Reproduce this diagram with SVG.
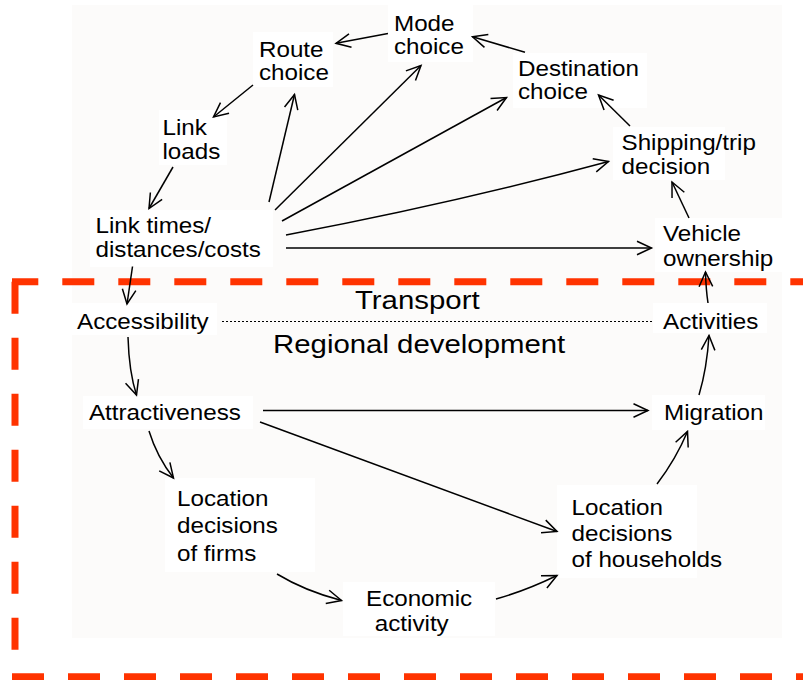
<svg xmlns="http://www.w3.org/2000/svg" width="803" height="680" viewBox="0 0 803 680">
<defs>
<style>
.bg{fill:#fcfbfa}
.box{fill:#ffffff}
.t{font-family:"Liberation Sans",Arial,sans-serif;font-size:22px;fill:#000;transform-box:fill-box;transform-origin:left center;transform:scaleX(1.1)}
.big{font-family:"Liberation Sans",Arial,sans-serif;font-size:26px;fill:#000;transform-box:fill-box;transform-origin:left center;transform:scaleX(1.13)}
.c{fill:none;stroke:#000;stroke-width:1.5;marker-end:url(#arr)}
.red{fill:none;stroke:#ff3300;stroke-width:7;stroke-dasharray:32 24}
.dot{stroke:#000;stroke-width:1.2;stroke-dasharray:2 2}
</style>
<marker id="arr" markerUnits="userSpaceOnUse" viewBox="-17 -9 19 18" refX="0" refY="0" markerWidth="19" markerHeight="18" orient="auto">
<path d="M-14.5,-6.8 L0,0 L-14.5,6.8" fill="none" stroke="#000" stroke-width="1.5"/>
</marker>
</defs>
<rect class="bg" x="72" y="5" width="710" height="633"/>

<g id="red-boundary">
<line class="red" x1="12" y1="281.7" x2="803" y2="281.7" stroke-dashoffset="5.7"/>
<line class="red" x1="15" y1="281.7" x2="15" y2="650"/>
<line class="red" x1="12" y1="676.7" x2="803" y2="676.7"/>
</g>

<g id="mode-choice"><rect class="box" x="388" y="5" width="85" height="57"/><text class="t" x="394" y="31.5">Mode<tspan x="394" y="54">choice</tspan></text></g>
<g id="route-choice"><rect class="box" x="253" y="32" width="80" height="55"/><text class="t" x="259" y="57">Route<tspan x="259" y="80">choice</tspan></text></g>
<g id="destination-choice"><rect class="box" x="513" y="53" width="134" height="55"/><text class="t" x="518" y="76">Destination<tspan x="518" y="99">choice</tspan></text></g>
<g id="link-loads"><rect class="box" x="159" y="110" width="68" height="55"/><text class="t" x="162.5" y="135">Link<tspan x="162.5" y="159">loads</tspan></text></g>
<g id="shipping-trip"><rect class="box" x="613" y="127" width="112" height="53"/><text class="t" x="621.5" y="150.5">Shipping/trip<tspan x="621.5" y="174">decision</tspan></text></g>
<g id="link-times"><rect class="box" x="90" y="210" width="183" height="57"/><text class="t" x="95.5" y="233.5">Link times/<tspan x="95.5" y="257">distances/costs</tspan></text></g>
<g id="vehicle-ownership"><rect class="box" x="655" y="218" width="127" height="54"/><text class="t" x="663" y="241.5">Vehicle<tspan x="663" y="266.5">ownership</tspan></text></g>

<g id="section-labels"><text class="big" x="355" y="309">Transport</text><text class="big" x="273" y="353">Regional development</text></g>

<g id="accessibility"><rect class="box" x="72" y="303" width="145" height="32"/><text class="t" x="77" y="329">Accessibility</text></g>
<g id="activities"><rect class="box" x="653" y="303" width="114" height="30"/><text class="t" x="663" y="329">Activities</text></g>
<g id="attractiveness"><rect class="box" x="83" y="396" width="170" height="33"/><text class="t" x="89" y="420.5">Attractiveness</text></g>
<g id="migration"><rect class="box" x="652" y="395" width="113" height="35"/><text class="t" x="664" y="420">Migration</text></g>
<g id="location-firms"><rect class="box" x="165" y="478" width="150" height="94"/><text class="t" x="177" y="506.5">Location<tspan x="177" y="533.5">decisions</tspan><tspan x="177" y="561.5">of firms</tspan></text></g>
<g id="economic-activity"><rect class="box" x="343" y="582" width="152" height="54"/><text class="t" x="366" y="606.5">Economic<tspan x="374" y="631.5">activity</tspan></text></g>
<g id="location-households"><rect class="box" x="557" y="485" width="140" height="93"/><text class="t" x="571.5" y="515">Location<tspan x="571.5" y="541.5">decisions</tspan><tspan x="571.5" y="567.5">of households</tspan></text></g>

<g id="connectors">
<path class="c" d="M388,33.5 L336,43.3"/>
<path class="c" d="M253,85 L213.5,117"/>
<path class="c" d="M173,167 L149,208.5"/>
<path class="c" d="M269,202 L294.5,94.5"/>
<path class="c" d="M275,210 L421,65.5"/>
<path class="c" d="M282,221 L506.5,97.5"/>
<path class="c" d="M286,235 Q455,203 608.5,161.5"/>
<path class="c" d="M286,248 L651.5,248"/>
<path class="c" d="M525,52.3 L472.5,36.8"/>
<path class="c" d="M630,126 L598.5,95"/>
<path class="c" d="M689,218 L672,182"/>
<path class="c" d="M708,303 Q706,290 705.5,272"/>
<path class="c" d="M132.5,266.5 L127,304"/>
<path class="c" d="M128,337 Q129,372 136.5,395"/>
<path class="c" d="M149,431 Q157,457 173.5,478"/>
<path class="c" d="M263,410.5 L648,410.5"/>
<path class="c" d="M260,422 L557,531.5"/>
<path class="c" d="M277,574 Q305,591 341.5,600.5"/>
<path class="c" d="M496,599 Q525,591 557,575.5"/>
<path class="c" d="M657,484 Q676,459 687.5,431.5"/>
<path class="c" d="M699,395 Q707,368 709,335.5"/>
<line class="dot" x1="222" y1="321.5" x2="653" y2="321.5"/>
</g>
</svg>
